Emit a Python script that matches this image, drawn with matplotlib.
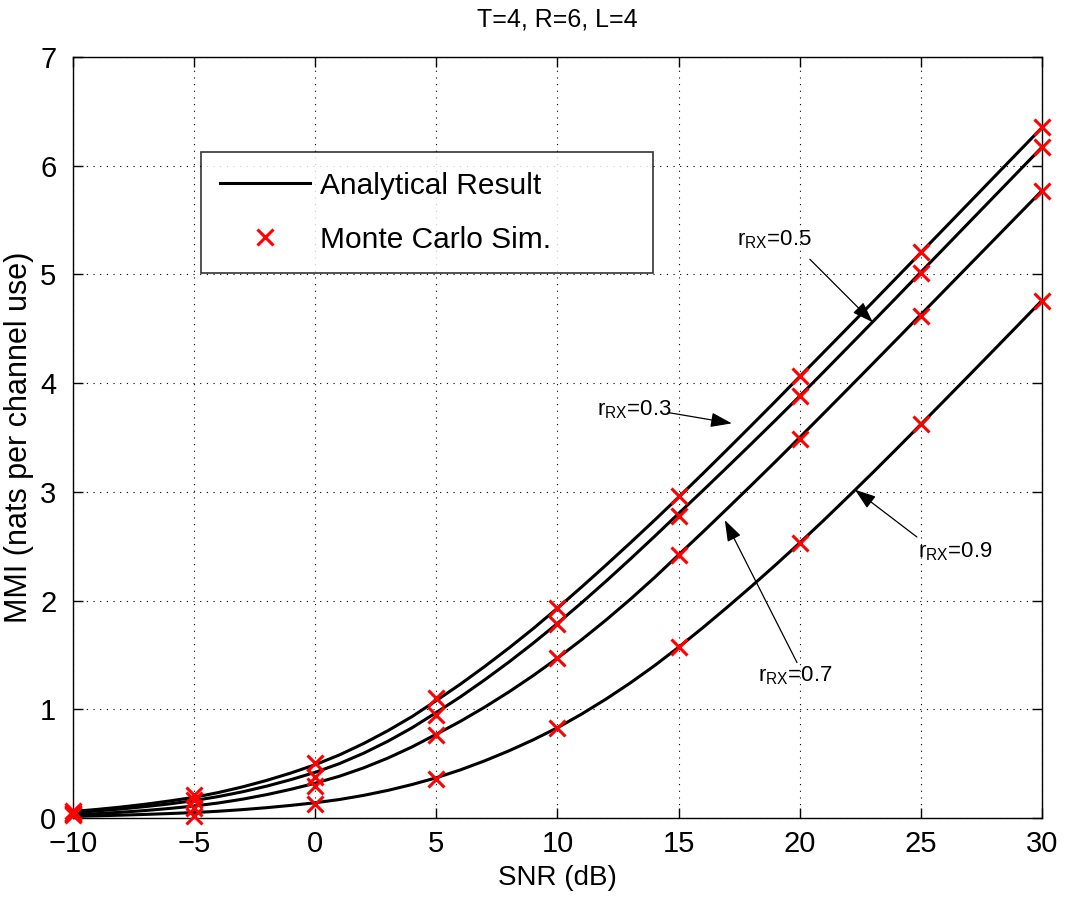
import matplotlib
matplotlib.use("Agg")
import matplotlib.pyplot as plt

plt.rcParams['font.family'] = ['Liberation Sans', 'DejaVu Sans']
plt.rcParams['mathtext.fontset'] = 'custom'
plt.rcParams['mathtext.rm'] = 'Liberation Sans'

# Analytical curves (1 dB steps)
snr_line = list(range(-10, 31))
mmi_r03 = [0.06, 0.079, 0.101, 0.127, 0.157, 0.19, 0.234, 0.286, 0.346, 0.414,
           0.49, 0.58, 0.685, 0.803, 0.933, 1.08, 1.232, 1.394, 1.564, 1.742,
           1.93, 2.125, 2.325, 2.529, 2.737, 2.95, 3.167, 3.387, 3.609, 3.833,
           4.06, 4.286, 4.513, 4.741, 4.97, 5.20, 5.43, 5.66, 5.89, 6.12, 6.35]
mmi_r05 = [0.05, 0.065, 0.083, 0.105, 0.13, 0.16, 0.197, 0.241, 0.293, 0.353,
           0.42, 0.50, 0.596, 0.706, 0.83, 0.97, 1.115, 1.271, 1.435, 1.608,
           1.79, 1.98, 2.177, 2.38, 2.588, 2.80, 3.011, 3.225, 3.441, 3.659,
           3.88, 4.105, 4.332, 4.56, 4.789, 5.02, 5.25, 5.48, 5.71, 5.94, 6.17]
mmi_r07 = [0.03, 0.04, 0.053, 0.069, 0.088, 0.11, 0.138, 0.173, 0.215, 0.264,
           0.32, 0.384, 0.461, 0.551, 0.654, 0.77, 0.89, 1.02, 1.16, 1.31,
           1.47, 1.64, 1.82, 2.01, 2.21, 2.42, 2.63, 2.844, 3.06, 3.278,
           3.50, 3.724, 3.949, 4.175, 4.402, 4.63, 4.858, 5.086, 5.314, 5.542, 5.77]
mmi_r09 = [0.015, 0.02, 0.026, 0.033, 0.041, 0.05, 0.062, 0.077, 0.095, 0.116,
           0.14, 0.17, 0.208, 0.254, 0.308, 0.37, 0.443, 0.526, 0.618, 0.719,
           0.83, 0.956, 1.093, 1.241, 1.40, 1.57, 1.75, 1.937, 2.129, 2.327,
           2.53, 2.74, 2.955, 3.173, 3.395, 3.62, 3.846, 4.073, 4.301, 4.53, 4.76]

# Monte Carlo simulation points
snr_sim = [-10, -5, 0, 5, 10, 15, 20, 25, 30]
sim_r03 = [0.06, 0.21, 0.51, 1.10, 1.93, 2.96, 4.07, 5.21, 6.36]
sim_r05 = [0.05, 0.17, 0.38, 0.95, 1.78, 2.78, 3.88, 5.01, 6.17]
sim_r07 = [0.04, 0.09, 0.29, 0.76, 1.47, 2.42, 3.49, 4.62, 5.77]
sim_r09 = [0.03, 0.02, 0.13, 0.36, 0.83, 1.57, 2.53, 3.62, 4.76]

fig = plt.figure(figsize=(10.65, 8.98), dpi=100)
ax = fig.add_axes([0.0685, 0.0891, 0.9098, 0.8474])

lines = [mmi_r03, mmi_r05, mmi_r07, mmi_r09]
sims = [sim_r03, sim_r05, sim_r07, sim_r09]
for i, l in enumerate(lines):
    ax.plot(snr_line, l, color='black', lw=2.2,
            label='Analytical Result' if i == 0 else None, zorder=3)
for i, s in enumerate(sims):
    ax.plot(snr_sim, s, linestyle='none', marker='x', color='red', ms=11, mew=2.2,
            label='Monte Carlo Sim.' if i == 0 else None, zorder=4, clip_on=False)

ax.set_xlim(-10, 30)
ax.set_ylim(0, 7)
ax.set_xticks(range(-10, 31, 5))
ax.set_yticks(range(0, 8))
ax.tick_params(direction='in', length=7, width=1, top=True, right=True, labelsize=21)
ax.tick_params(axis='x', pad=9)
ax.tick_params(axis='y', pad=12)
ax.grid(True, linestyle=(0, (1, 5)), color='black', lw=0.8)
for sp in ax.spines.values():
    sp.set_linewidth(1)

ax.set_xlabel('SNR (dB)', fontsize=20, labelpad=5)
ax.set_ylabel('MMI (nats per channel use)', fontsize=22, labelpad=4)
ax.set_title('T=4, R=6, L=4', fontsize=18, pad=22)

leg = ax.legend(loc='upper left', bbox_to_anchor=(0.132, 0.717, 0.467, 0.158), mode='expand',
                fontsize=21.5, frameon=True, fancybox=False, edgecolor='black',
                handlelength=3.0, borderpad=0.65, labelspacing=0.88, handletextpad=0.35,
                borderaxespad=0)
leg.get_frame().set_linewidth(1.2)

arrow = dict(arrowstyle='-|>,head_length=1.3,head_width=0.45', color='black', lw=0.9,
             shrinkA=0, shrinkB=0, mutation_scale=10)
afs = 16
ax.text(17.41, 5.27, r'$\mathregular{r_{RX}}$=0.5', fontsize=afs, ha='left', va='baseline')
ax.annotate('', xy=(23.02, 4.56), xytext=(20.42, 5.14), arrowprops=arrow)
ax.text(11.63, 3.70, r'$\mathregular{r_{RX}}$=0.3', fontsize=afs, ha='left', va='baseline')
ax.annotate('', xy=(17.20, 3.63), xytext=(14.56, 3.73), arrowprops=arrow)
ax.text(24.88, 2.40, r'$\mathregular{r_{RX}}$=0.9', fontsize=afs, ha='left', va='baseline')
ax.annotate('', xy=(22.28, 3.02), xytext=(24.84, 2.585), arrowprops=arrow)
ax.text(18.28, 1.26, r'$\mathregular{r_{RX}}$=0.7', fontsize=afs, ha='left', va='baseline')
ax.annotate('', xy=(16.91, 2.74), xytext=(19.89, 1.43), arrowprops=arrow)

fig.savefig('out.png', dpi=100)
